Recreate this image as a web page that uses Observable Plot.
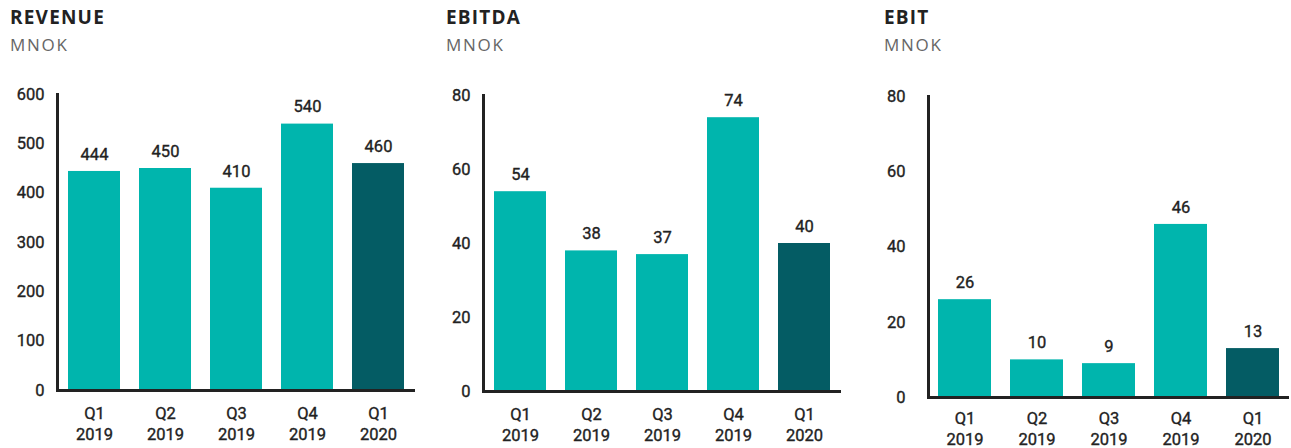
<!DOCTYPE html>
<html>
<head>
<meta charset="utf-8">
<script src="https://cdn.jsdelivr.net/npm/d3@7"></script>
<script src="https://cdn.jsdelivr.net/npm/@observablehq/plot@0.6"></script>
<style>
  html, body { margin: 0; padding: 0; background: #fff; }
  body { width: 1291px; height: 448px; position: relative; overflow: hidden; font-family: "Open Sans", sans-serif; }
  .panel { position: absolute; top: 0; }
  .title { position: absolute; top: 4px; font-size: 19px; font-weight: 700; color: #222; letter-spacing: 1.2px; }
  .sub { position: absolute; top: 33px; font-size: 17px; font-weight: 400; color: #666; letter-spacing: 1.7px; }
  .chart { position: absolute; top: 70px; left: 0; }
  svg text { font-family: Roboto, sans-serif; stroke: #222; stroke-width: 0.35px; }
</style>
</head>
<body>
<script>
const quarters = ["Q1\n2019", "Q2\n2019", "Q3\n2019", "Q4\n2019", "Q1\n2020"];
const revenue = [444, 450, 410, 540, 460];
const ebitda = [54, 38, 37, 74, 40];
const ebit = [26, 10, 9, 46, 13];
const isLatest = [false, false, false, false, true];
const titles = ["REVENUE", "EBITDA", "EBIT"];
const units = ["MNOK", "MNOK", "MNOK"];
const yTicksRevenue = [0, 100, 200, 300, 400, 500, 600];
const yTicksEbitda = [0, 20, 40, 60, 80];
const yTicksEbit = [0, 20, 40, 60, 80];

const TEAL = "#00b5ad", DARK = "#045c64", INK = "#222";

function makePanel(values, ticks, yMax, L) {
  const data = quarters.map((q, i) => ({q, v: values[i], latest: isLatest[i]}));
  const chart = Plot.plot({
    width: L.width, height: 378,
    marginLeft: L.ml, marginRight: L.mr, marginTop: L.mt, marginBottom: L.mb,
    x: {domain: quarters, paddingInner: 0.27, paddingOuter: 0.14, label: null},
    y: {domain: [0, yMax], label: null},
    style: {fontFamily: "Roboto, sans-serif", fontSize: "16.5px", color: INK},
    marks: [
      Plot.barY(data, {x: "q", y: "v", fill: d => d.latest ? DARK : TEAL}),
      Plot.text(data, {x: "q", y: "v", text: d => String(d.v), dy: -17, fontSize: 16.5, fontWeight: 400, fill: INK}),
      Plot.axisY({ticks: ticks, tickSize: 0, tickPadding: L.tp, fontSize: 16.5, fontWeight: 400, label: null}),
      Plot.axisX({tickSize: 0, tickPadding: L.xp, fontSize: 16.5, fontWeight: 400, lineHeight: L.lh, label: null}),
      Plot.frame({anchor: "left", stroke: INK, strokeWidth: 3}),
      Plot.ruleY([0], {stroke: INK, strokeWidth: 3})
    ]
  });
  chart.classList.add("chart");
  return chart;
}

const layouts = [
  {left: 0, tx: 10, width: 430, ml: 57, mr: 15, mt: 24, mb: 58, tp: 13, xp: 13, lh: 1.3, values: revenue, ticks: yTicksRevenue, max: 600},
  {left: 430, tx: 16, width: 430, ml: 53, mr: 19, mt: 25, mb: 57, tp: 13, xp: 13, lh: 1.3, values: ebitda, ticks: yTicksEbitda, max: 80},
  {left: 860, tx: 24, width: 431, ml: 68, mr: 2, mt: 26, mb: 51, tp: 23, xp: 12, lh: 1.25, values: ebit, ticks: yTicksEbit, max: 80}
];

layouts.forEach((L, i) => {
  const p = document.createElement("div");
  p.className = "panel";
  p.style.left = L.left + "px";
  p.style.width = L.width + "px";
  p.style.height = "448px";
  const t = document.createElement("div");
  t.className = "title"; t.style.left = L.tx + "px"; t.textContent = titles[i];
  const s = document.createElement("div");
  s.className = "sub"; s.style.left = L.tx + "px"; s.textContent = units[i];
  p.appendChild(t); p.appendChild(s);
  p.appendChild(makePanel(L.values, L.ticks, L.max, L));
  document.body.appendChild(p);
});
</script>
</body>
</html>
